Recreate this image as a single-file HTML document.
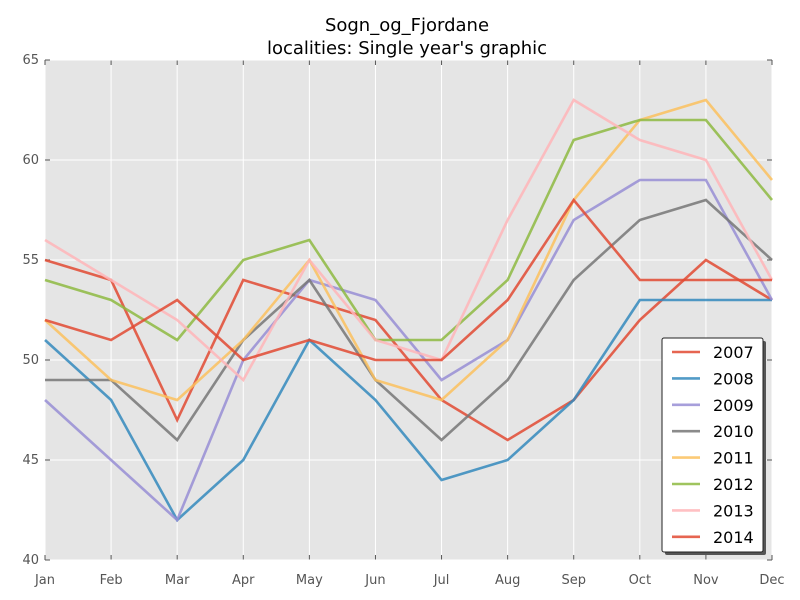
<!DOCTYPE html>
<html><head><meta charset="utf-8"><style>
body{margin:0;background:#fff;}
svg{display:block;font-family:"DejaVu Sans","Liberation Sans",sans-serif;}
</style></head><body>
<svg id="chart" width="800" height="600">
<rect x="0" y="0" width="800" height="600" fill="#fff"/>
<text x="407" y="31" text-anchor="middle" font-size="18">Sogn_og_Fjordane</text>
<text x="407" y="54" text-anchor="middle" font-size="18">localities: Single year's graphic</text>
<g id="plot"></g>
</svg>
<script>
const months=["Jan","Feb","Mar","Apr","May","Jun","Jul","Aug","Sep","Oct","Nov","Dec"];
const yTicks=[40,45,50,55,60,65];
const years=["2007","2008","2009","2010","2011","2012","2013","2014"];
const colors=["#E24A33","#348ABD","#988ED5","#777777","#FBC15E","#8EBA42","#FFB5B8","#E24A33"];
const s2007=[55,54,47,54,53,52,48,46,48,52,55,53];
const s2008=[51,48,42,45,51,48,44,45,48,53,53,53];
const s2009=[48,45,42,50,54,53,49,51,57,59,59,53];
const s2010=[49,49,46,51,54,49,46,49,54,57,58,55];
const s2011=[52,49,48,51,55,49,48,51,58,62,63,59];
const s2012=[54,53,51,55,56,51,51,54,61,62,62,58];
const s2013=[56,54,52,49,55,51,50,57,63,61,60,54];
const s2014=[52,51,53,50,51,50,50,53,58,54,54,54];
const series=[s2007,s2008,s2009,s2010,s2011,s2012,s2013,s2014];

const L=45,R=772,T=60,B=560,yMin=40,yMax=65;
const xS=i=>L+(R-L)*i/(months.length-1);
const yS=v=>B-(v-yMin)/(yMax-yMin)*(B-T);
const NS="http://www.w3.org/2000/svg";
const g=document.getElementById('plot');
function mk(tag,attrs,parent){const e=document.createElementNS(NS,tag);for(const k in attrs)e.setAttribute(k,attrs[k]);(parent||g).appendChild(e);return e;}

const bg=mk('rect',{x:L,y:T,width:R-L,height:B-T,fill:'#E5E5E5'});



months.forEach((m,i)=>{
  const x=xS(i);
  const gl=mk('line',{x1:x,x2:x,y1:T,y2:B,stroke:'#fff','stroke-width':1});
  
  
  const tk=mk('line',{x1:x,x2:x,y1:B,y2:B-5,stroke:'#555'});
  
  
  const tk2=mk('line',{x1:x,x2:x,y1:T,y2:T+5,stroke:'#555'});
  
  
  const t=mk('text',{x:x,y:B+24,'text-anchor':'middle','font-size':13,fill:'#555'});
  t.textContent=m;
  
  
});
yTicks.forEach(v=>{
  const y=yS(v);
  const gl=mk('line',{x1:L,x2:R,y1:y,y2:y,stroke:'#fff','stroke-width':1});
  
  
  const tk=mk('line',{x1:L,x2:L+5,y1:y,y2:y,stroke:'#555'});
  
  
  const tk2=mk('line',{x1:R,x2:R-5,y1:y,y2:y,stroke:'#555'});
  
  
  const t=mk('text',{x:L-6,y:y+4,'text-anchor':'end','font-size':13,fill:'#555'});
  t.textContent=v;
  
  
});
series.forEach((s,k)=>{
  const p=mk('polyline',{points:s.map((v,i)=>xS(i)+','+yS(v)).join(' '),fill:'none',stroke:colors[k],'stroke-width':2.6,'stroke-opacity':0.85,'stroke-linejoin':'miter'});
  
  
});
const lg=mk('g',{});


mk('rect',{x:665,y:341,width:101,height:214,fill:'#555',rx:2},lg);
mk('rect',{x:662,y:338,width:101,height:214,fill:'#fff',stroke:'#222','stroke-width':1,rx:2},lg);
years.forEach((yr,k)=>{
  const y=352+k*26.4;
  const ln=mk('line',{x1:672,x2:700,y1:y,y2:y,stroke:colors[k],'stroke-width':2.6,'stroke-opacity':0.85},lg);
  
  
  const t=mk('text',{x:713,y:y+6,'font-size':16,fill:'#000'},lg);
  t.textContent=yr;
  
  
});
</script>
</body></html>
